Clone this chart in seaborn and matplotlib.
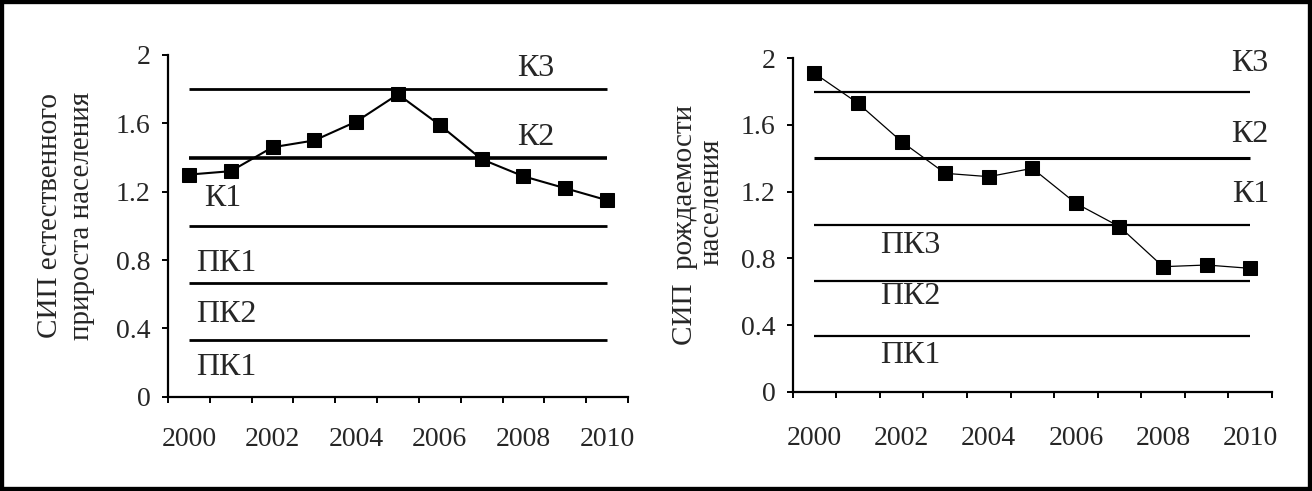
import numpy as np
import pandas as pd
import seaborn as sns
import matplotlib.pyplot as plt
from matplotlib.patches import Rectangle

# values
years = list(range(2000, 2011))
growth = [1.30, 1.32, 1.46, 1.50, 1.61, 1.77, 1.59, 1.39, 1.29, 1.22, 1.15]
birth = [1.91, 1.73, 1.50, 1.31, 1.29, 1.34, 1.13, 0.99, 0.75, 0.76, 0.74]
levels = [1.8, 1.4, 1.0, 2 / 3, 1 / 3]
yticks = [0, 0.4, 0.8, 1.2, 1.6, 2]
ytick_labels = ["0", "0.4", "0.8", "1.2", "1.6", "2"]
year_labels = ["2000", "2002", "2004", "2006", "2008", "2010"]

left_zones = ["К3", "К2", "К1", "ПК1", "ПК2", "ПК1"]
right_zones = ["К3", "К2", "К1", "ПК3", "ПК2", "ПК1"]
left_ylabel = ["СИП естественного", "прироста населения"]
right_ylabel = ["СИП  рождаемости", "населения"]

df = pd.DataFrame({"year": years, "growth": growth, "birth": birth})

sns.set_style("ticks")
plt.rcParams["font.family"] = ["Liberation Serif", "DejaVu Serif"]

fig = plt.figure(figsize=(13.12, 4.91), dpi=100)
ax1 = fig.add_axes([168 / 1312, 1 - 396.7 / 491, 460 / 1312, 341.7 / 491])
ax2 = fig.add_axes([792.7 / 1312, 1 - 391.7 / 491, 479.3 / 1312, 333.4 / 491])


def style_axis(ax, xpad):
    ax.set_xlim(1999.5, 2010.5)
    ax.set_ylim(0, 2)
    for s in ["top", "right"]:
        ax.spines[s].set_visible(False)
    for s in ["left", "bottom"]:
        ax.spines[s].set_linewidth(1.6)
        ax.spines[s].set_color("black")
    ax.set_yticks(yticks, ytick_labels)
    ax.set_xticks(np.arange(1999.5, 2011, 1), [""] * 12)
    ax.set_xticks(years[::2], year_labels, minor=True)
    ax.tick_params(axis="y", length=4.5, width=1.4, pad=8, labelsize=20, color="black")
    ax.tick_params(axis="x", which="major", length=4.5, width=1.4, color="black")
    ax.tick_params(axis="x", which="minor", length=0, pad=xpad, labelsize=20)
    ax.set_xlabel("")
    ax.set_ylabel("")


for ax, col, lw, hw, xpad in [(ax1, "growth", 1.5, 2.0, 22), (ax2, "birth", 0.9, 1.6, 25)]:
    widths = [hw, hw + 0.6, hw, hw, hw]
    for lev, w in zip(levels, widths):
        ax.hlines(lev, years[0], years[-1], color="black", linewidth=w, zorder=1)
    sns.lineplot(data=df, x="year", y=col, ax=ax, color="black", marker="s",
                 markersize=10, markeredgecolor="black", linewidth=lw, zorder=3)
    style_axis(ax, xpad)

# zone labels
left_pos = [(2008.3, 1.92), (2008.3, 1.52), (2000.8, 1.16), (2000.9, 0.78), (2000.9, 0.48), (2000.9, 0.17)]
right_pos = [(2010.0, 1.97), (2010.0, 1.54), (2010.0, 1.18), (2002.2, 0.88), (2002.2, 0.57), (2002.2, 0.22)]
for ax, zones, pos in [(ax1, left_zones, left_pos), (ax2, right_zones, right_pos)]:
    for z, (x, y) in zip(zones, pos):
        ax.text(x, y, z, ha="center", va="center", fontsize=23)

# two-line y labels
ax1.text(-0.228, 0.53, left_ylabel[0], rotation=90, ha="right", va="center",
         fontsize=21, transform=ax1.transAxes)
ax1.text(-0.158, 0.53, left_ylabel[1], rotation=90, ha="right", va="center",
         fontsize=21, transform=ax1.transAxes)
ax2.text(-0.198, 0.50, right_ylabel[0], rotation=90, ha="right", va="center",
         fontsize=21, transform=ax2.transAxes)
ax2.text(-0.142, 0.569, right_ylabel[1], rotation=90, ha="right", va="center",
         fontsize=21, transform=ax2.transAxes)

# black frame round the whole picture
fig.add_artist(Rectangle((0, 0), 1, 1, transform=fig.transFigure, fill=False,
                         edgecolor="black", linewidth=6))

fig.savefig("out.png", dpi=100)
